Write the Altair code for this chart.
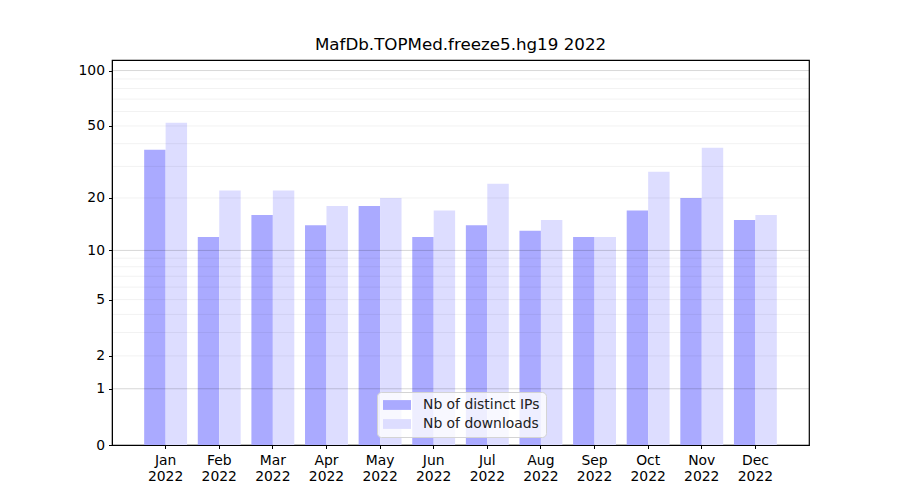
import altair as alt
import pandas as pd

months = ["Jan", "Feb", "Mar", "Apr", "May", "Jun", "Jul", "Aug", "Sep", "Oct", "Nov", "Dec"]
year = "2022"
ips = [37, 12, 16, 14, 18, 12, 14, 13, 12, 17, 20, 15]
downloads = [52, 22, 22, 18, 20, 17, 24, 15, 12, 28, 38, 16]
series_names = ["Nb of distinct IPs", "Nb of downloads"]
series_colors = ["#aaaaff", "#ddddff"]
y_ticks = [0, 1, 2, 5, 10, 20, 50, 100]
major_grid = [1, 10, 100]
minor_grid = [2, 3, 4, 5, 6, 7, 8, 9, 20, 30, 40, 50, 60, 70, 80, 90]
title_text = "MafDb.TOPMed.freeze5.hg19 2022"

labels = [f"{m} {year}" for m in months]
rows = []
for lab, a, b in zip(labels, ips, downloads):
    rows.append({"month": lab, "series": series_names[0], "value": a})
    rows.append({"month": lab, "series": series_names[1], "value": b})
df = pd.DataFrame(rows)

font = "DejaVu Sans"
yscale = alt.Scale(type="symlog", constant=1, domain=[0, 114], nice=False, zero=True)

bars = alt.Chart(df).mark_bar().encode(
    x=alt.X("month:N", sort=labels,
            scale=alt.Scale(paddingInner=0.2, paddingOuter=0.6),
            axis=alt.Axis(title=None, labelAngle=0, labelExpr="split(datum.label, ' ')",
                          labelFont=font, labelFontSize=13.9, labelColor="black",
                          labelLineHeight=15.5, labelPadding=5,
                          tickColor="black", tickSize=3.5, domainColor="black", grid=False)),
    xOffset=alt.XOffset("series:N", sort=series_names),
    y=alt.Y("value:Q", scale=yscale,
            axis=alt.Axis(title=None, values=y_ticks, labelFont=font, labelFontSize=13.9,
                          labelColor="black", tickColor="black", tickSize=3.5,
                          labelPadding=4, domainColor="black", grid=False)),
    color=alt.Color("series:N", sort=series_names,
                    scale=alt.Scale(domain=series_names, range=series_colors),
                    legend=alt.Legend(title=None, orient="none", legendX=265, legendY=332,
                                      symbolType="M-2,-0.7L2,-0.7L2,0.7L-2,0.7Z",
                                      symbolSize=196, symbolOpacity=1, symbolStrokeWidth=0,
                                      symbolOffset=7,
                                      labelFont=font, labelFontSize=13.9, labelColor="#222",
                                      labelOffset=19, rowPadding=5, padding=6,
                                      fillColor="rgba(255,255,255,0.8)", strokeColor="#d4d4d4",
                                      cornerRadius=4)),
)

minor = alt.Chart(pd.DataFrame({"v": minor_grid})).mark_rule(
    color="black", opacity=0.07, strokeWidth=0.8
).encode(y=alt.Y("v:Q", scale=yscale))

major = alt.Chart(pd.DataFrame({"v": major_grid})).mark_rule(
    color="black", opacity=0.2, strokeWidth=0.8
).encode(y=alt.Y("v:Q", scale=yscale))

chart = alt.layer(bars, minor, major).properties(
    width=697, height=385,
    title=alt.Title(title_text, font=font, fontSize=16.7, fontWeight="normal",
                    color="black", offset=6),
    padding={"left": 69, "top": 29, "right": 5, "bottom": 5},
    background="white",
).configure_view(stroke="black", strokeWidth=1.2)

chart.save("out.html", embed_options={"renderer": "svg", "actions": False})
